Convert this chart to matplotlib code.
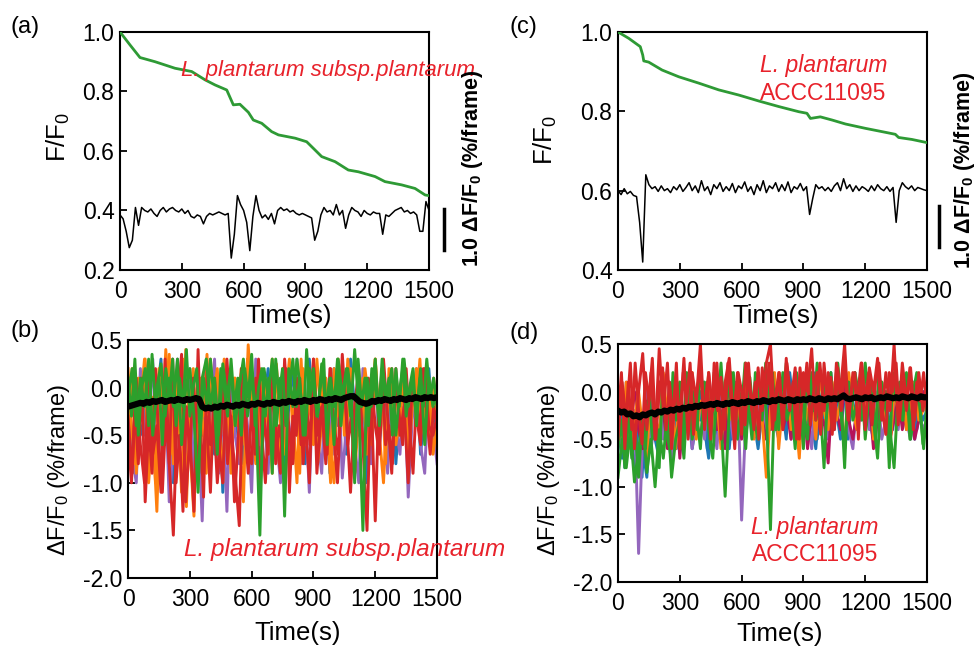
import numpy as np
import matplotlib
matplotlib.use('Agg')
import matplotlib.pyplot as plt

plt.rcParams['font.family'] = ['Liberation Sans', 'DejaVu Sans']
plt.rcParams['axes.unicode_minus'] = False
plt.rcParams['mathtext.fontset'] = 'custom'
plt.rcParams['mathtext.rm'] = 'Liberation Sans'
plt.rcParams['mathtext.it'] = 'Liberation Sans:italic'
plt.rcParams['mathtext.bf'] = 'Liberation Sans:bold'

# ---------------- data ----------------
# (a) F/F0 green curve
green_a_t = [0, 49, 97, 113, 170, 267, 348, 413, 461, 518, 550, 582, 623, 647, 688, 736, 769, 850, 906,
             947, 979, 1044, 1108, 1157, 1238, 1286, 1367, 1432, 1481, 1500]
green_a = [1.0, 0.956, 0.914, 0.911, 0.90, 0.878, 0.867, 0.839, 0.822, 0.805, 0.755, 0.757, 0.73, 0.704,
           0.693, 0.665, 0.654, 0.643, 0.631, 0.603, 0.581, 0.564, 0.536, 0.53, 0.514, 0.497, 0.486, 0.474,
           0.452, 0.45]
# (a) dF/F0 trace (drawn on F/F0 axis scale)
black_a = [0.385, 0.372, 0.33, 0.275, 0.30, 0.41, 0.35, 0.41, 0.40, 0.395, 0.405, 0.39, 0.38, 0.40, 0.41,
           0.395, 0.405, 0.41, 0.40, 0.395, 0.405, 0.39, 0.40, 0.38, 0.375, 0.385, 0.38, 0.355, 0.38, 0.39,
           0.385, 0.39, 0.395, 0.39, 0.385, 0.39, 0.24, 0.32, 0.45, 0.42, 0.40, 0.36, 0.265, 0.38, 0.45,
           0.40, 0.375, 0.385, 0.37, 0.39, 0.355, 0.40, 0.41, 0.40, 0.405, 0.395, 0.40, 0.39, 0.385, 0.39,
           0.385, 0.38, 0.375, 0.30, 0.33, 0.385, 0.41, 0.395, 0.40, 0.385, 0.42, 0.385, 0.40, 0.34, 0.385,
           0.41, 0.40, 0.395, 0.38, 0.40, 0.39, 0.385, 0.395, 0.39, 0.39, 0.32, 0.385, 0.38, 0.39, 0.40,
           0.405, 0.41, 0.395, 0.40, 0.39, 0.395, 0.385, 0.33, 0.33, 0.43, 0.40]

# (c) F/F0 green curve
green_c_t = [0, 52, 108, 120, 125, 149, 214, 295, 392, 489, 586, 683, 780, 877, 917, 934, 982, 1039, 1104,
             1201, 1298, 1346, 1362, 1427, 1500]
green_c = [1.0, 0.984, 0.963, 0.942, 0.927, 0.924, 0.904, 0.887, 0.871, 0.854, 0.841, 0.826, 0.812, 0.799,
           0.795, 0.782, 0.786, 0.778, 0.768, 0.757, 0.747, 0.742, 0.734, 0.729, 0.721]
black_c = [0.600, 0.590, 0.605, 0.592, 0.598, 0.588, 0.585, 0.520, 0.420, 0.640, 0.615, 0.605, 0.610, 0.598,
           0.612, 0.600, 0.605, 0.595, 0.610, 0.602,
           0.615, 0.598, 0.608, 0.620, 0.600, 0.612, 0.595, 0.625, 0.600, 0.610, 0.590, 0.615, 0.605, 0.620,
           0.598, 0.610, 0.600, 0.618, 0.595, 0.612,
           0.605, 0.622, 0.598, 0.610, 0.590, 0.615, 0.600, 0.625, 0.595, 0.612, 0.605, 0.620, 0.598, 0.615,
           0.600, 0.622, 0.595, 0.610, 0.604, 0.618,
           0.600, 0.610, 0.540, 0.580, 0.615, 0.605, 0.610, 0.600, 0.608, 0.598, 0.612, 0.620, 0.600, 0.630,
           0.605, 0.615, 0.598, 0.612, 0.600, 0.610,
           0.605, 0.598, 0.612, 0.600, 0.615, 0.605, 0.600, 0.610, 0.598, 0.608, 0.520, 0.600, 0.620, 0.610,
           0.604, 0.612, 0.600, 0.608, 0.605, 0.602, 0.600]

# (b) individual cell dF/F0 traces (%/frame)
b_blue = [-0.2, -0.9, 0.1, -0.5, -0.3, 0.2, -0.7, -0.1, 0.3, -0.6, -0.2, -1.0, 0.1, -0.4, 0.2, -0.3, -0.8, 0.0, -0.5, 0.3,
          -0.2, -0.7, 0.1, -1.1, -0.3, 0.2, -0.5, -0.1, -0.8, 0.3, -0.4, 0.1, -0.9, -0.2, 0.2, -0.6, -0.3, 0.1, -1.0, -0.2,
          0.2, -0.5, -0.1, -0.8, 0.3, -0.3, -0.6, 0.1, -0.2, -0.9, 0.2, -0.4, -0.1, -0.7, 0.3, -0.2, -0.5, 0.1, -1.0, -0.3,
          0.2, -0.6, -0.1, -0.4, 0.1, -0.8, -0.2, 0.2, -0.5, -0.3, 0.1, -0.7, -0.2, 0.2, -0.4, -0.1]
b_purple = [0.0, -0.7, -1.0, 0.2, -0.5, -0.3, 0.3, -0.9, -0.4, 0.1, -1.2, -0.6, 0.3, -0.2, -0.8, 0.2, -1.05, -0.3, -1.4, 0.1,
            -0.6, 0.3, -0.9, -0.2, -1.3, 0.2, -0.5, -0.8, 0.1, -0.4, -1.1, 0.3, -0.6, -0.2, -0.9, 0.2, -0.5, -1.0, 0.1, -0.7,
            -0.3, 0.3, -0.8, -0.2, -1.1, 0.2, -0.5, -0.9, 0.1, -0.3, -0.7, 0.2, -0.95, -0.4, 0.1, -0.6, -1.0, 0.2, -0.3, -0.8,
            0.1, -0.5, -0.2, -0.9, 0.2, -0.4, -0.7, 0.1, -1.15, -0.3, 0.2, -0.6, -0.9, 0.1, -0.4, -0.8]
b_orange = [-0.6, 0.2, -0.9, -0.2, 0.3, -1.0, -0.4, -1.3, 0.1, -0.5, 0.35, -0.8, -0.2, -1.1, 0.4, -0.6, -1.35, 0.1, -0.3, -0.9,
            0.3, -0.5, -0.2, -1.0, 0.2, -0.7, 0.1, -0.4, -1.2, 0.3, -0.3, -0.8, 0.2, -0.5, -0.1, -0.9, 0.25, -0.4, -0.7, 0.1,
            -0.3, -1.0, 0.3, -0.6, -0.2, 0.2, -0.8, -0.4, 0.1, -0.6, -1.0, 0.3, -0.2, -0.5, 0.2, -0.9, -0.3, 0.1, -0.7, -0.2,
            0.3, -0.5, -1.0, -0.1, 0.2, -0.6, -0.3, 0.1, -0.8, -0.2, 0.2, -0.5, -0.3, 0.1, -0.7, -0.4]
b_orange2 = [0.2, -0.4, -0.8, 0.1, -0.3, 0.3, -0.6, -0.1, -1.0, 0.2, -0.4, 0.4, -0.2, -0.7, 0.1, -0.5, 0.3, -1.25, -0.2, 0.2,
             -0.6, 0.1, -0.3, 0.35, -0.8, -0.1, 0.2, -0.5, 0.3, -0.2, -0.9, 0.1, -0.4, 0.2, -0.6, 0.45, -0.1, -0.3, 0.2, -0.7,
             0.1, -0.4, 0.3, -0.2, -0.8, 0.2, -0.1, 0.3, -0.5, 0.0, -0.9, 0.2, -0.3, 0.1, -0.6, 0.3, -0.2, 0.1, -0.4, -1.0,
             0.2, -0.3, 0.1, -0.5, 0.3, -0.2, -0.7, 0.1, -0.4, 0.2, -0.1, -0.6, 0.3, -0.3, 0.0, -0.8, 0.2, -0.2, 0.1, -0.5,
             0.2, -0.3, -0.6, 0.1, -0.2, 0.3, -0.4, 0.0, -0.5, 0.1, -0.3]
b_red = [-0.3, -0.9, 0.1, -0.6, -1.0, 0.2, -0.7, -0.4, -1.1, 0.3, -0.8, -1.55, -0.2, 0.35, -1.2, -0.5, -1.3, 0.4, -0.9, -0.3,
         -1.1, 0.1, -0.6, -1.0, 0.3, -0.4, -0.9, -1.45, 0.2, -0.6, -0.8, 0.1, -1.1, -0.3, -0.7, 0.2, -0.5, -0.9, 0.3, -0.4,
         -0.8, 0.1, -0.6, -0.3, -1.0, 0.3, -0.5, -0.2, -0.8, 0.2, -0.4, -0.7, 0.35, -0.3, -1.1, -0.2, 0.2, -0.6, -1.5, 0.1,
         -0.4, -0.7, 0.3, -0.3, -0.9, 0.2, -0.5, -0.2, -1.0, 0.1, -0.3, -0.6, 0.2, -0.4, -0.5, -0.3]
b_red2 = [-0.5, -1.0, -0.2, -0.8, 0.1, -1.2, -0.4, -0.9, 0.2, -0.6, -1.1, -0.3, -0.8, 0.3, -1.0, -0.5, -1.3, -0.2, -0.7, 0.1,
          -0.9, -0.4, -1.15, 0.2, -0.6, -0.3, -1.0, -0.5, 0.1, -0.8, -0.3, -1.2, -0.6, 0.2, -0.4, -0.9, -0.2, -0.7, 0.3, -0.5,
          -1.0, -0.3, 0.1, -0.8, -0.4, -0.6, 0.2, -1.1, -0.3, -0.5, 0.1, -0.8, -0.2, -0.6, 0.3, -0.9, -0.4, -0.1, -0.7, 0.2,
          -0.5, -1.0, -0.2, 0.1, -0.6, -0.3, -0.9, 0.2, -0.4, -0.7, 0.1, -0.3, -1.4, -0.2, 0.2, -0.6, -0.4, -0.8, 0.1, -0.3,
          -0.6, 0.2, -0.4, -0.9, -0.1, -0.5, 0.2, -0.3, -0.7, -0.2, -0.4]
b_green = [-0.1, 0.2, -0.4, 0.1, -0.2, 0.3, -0.5, 0.0, 0.25, -0.3, 0.1, -0.2, 0.3, -0.6, 0.0, 0.2, -0.3, -1.1, 0.1, 0.3,
           -0.2, 0.1, -0.5, 0.25, -0.1, 0.2, -0.4, 0.0, 0.3, -0.3, 0.1, -0.2, -1.55, 0.2, -0.1, 0.3, -0.4, 0.1, -1.35, 0.2,
           -0.2, 0.3, -0.1, -0.5, 0.2, 0.0, -0.3, 0.25, -0.2, 0.1, -0.6, 0.3, -0.1, 0.2, -0.3, 0.4, -0.2, -1.5, 0.1, -0.2,
           0.3, -0.4, 0.1, -0.1, 0.2, -0.5, 0.0, 0.3, -0.2, 0.1, -0.3, 0.2, -0.6, 0.1, -0.2, 0.0]
b_green2 = [0.1, -0.3, 0.3, -0.5, 0.0, 0.2, -0.4, 0.35, -0.2, 0.1, -0.6, 0.2, -0.1, 0.3, -0.4, 0.1, -0.2, 0.4, -0.3, 0.0,
            0.2, -0.5, 0.1, -0.2, 0.3, -0.1, -0.7, 0.2, 0.0, -0.3, 0.3, -0.2, 0.1, -0.5, 0.2, -0.1, 0.35, -0.4, 0.0, 0.2,
            -0.3, 0.1, -0.9, 0.3, -0.1, 0.2, -0.4, 0.0, 0.3, -0.2, 0.1, -0.5, 0.4, -0.1, 0.2, -0.3, 0.0, 0.3, -0.6, 0.1,
            -0.2, 0.3, -0.4, 0.0, 0.2, -0.1, -1.0, 0.3, -0.2, 0.1, -0.4, 0.2, 0.0, -0.3, 0.3, -0.1, 0.1, -0.5, 0.2, -0.2,
            0.3, -0.3, 0.0, 0.2, -0.4, 0.1, -0.2, 0.3, -0.1, 0.1, -0.2]
b_mean = [-0.20, -0.19, -0.18, -0.17, -0.16, -0.17, -0.15, -0.16, -0.14, -0.15,
          -0.14, -0.13, -0.15, -0.14, -0.13, -0.14, -0.12, -0.13, -0.14, -0.12,
          -0.13, -0.12, -0.11, -0.12, -0.20, -0.22, -0.21, -0.22, -0.20, -0.21,
          -0.19, -0.20, -0.18, -0.19, -0.20, -0.18, -0.19, -0.17, -0.18, -0.19,
          -0.17, -0.18, -0.16, -0.17, -0.18, -0.16, -0.17, -0.15, -0.16, -0.17,
          -0.15, -0.16, -0.14, -0.15, -0.16, -0.14, -0.15, -0.13, -0.14, -0.15,
          -0.13, -0.14, -0.12, -0.13, -0.14, -0.12, -0.13, -0.11, -0.12, -0.13,
          -0.11, -0.10, -0.09, -0.09, -0.12, -0.15, -0.16, -0.17, -0.16, -0.14,
          -0.15, -0.13, -0.14, -0.12, -0.13, -0.14, -0.12, -0.13, -0.11, -0.12,
          -0.13, -0.11, -0.12, -0.10, -0.11, -0.12, -0.10, -0.11, -0.10, -0.11, -0.10]

# (d) individual cell dF/F0 traces (%/frame)
d_blue = [-0.4, -0.7, -0.2, -0.5, -0.8, -0.3, -0.6, -0.9, -0.2, -0.5, -0.7, -0.1, -0.4, -0.75, -0.3, -0.1, -0.5, -0.2, -0.6, -0.3,
          0.0, -0.4, -0.7, -0.2, -0.5, 0.1, -0.3, -0.6, -0.1, -0.4, -0.2, -0.5, 0.0, -0.3, -0.6, -0.2, 0.1, -0.4, -0.3, -0.5,
          -0.1, -0.3, 0.1, -0.5, -0.2, -0.4, 0.0, -0.3, -0.6, -0.1, -0.3, 0.1, -0.4, -0.2, -0.5, 0.0, -0.3, -0.1, -0.4, -0.2,
          0.1, -0.3, -0.5, -0.1, -0.3, 0.0, -0.4, -0.2, -0.3, 0.1, -0.4, -0.2, -0.5, -0.1, -0.3, -0.2]
d_blue2 = [-0.5, -0.2, -0.8, -0.4, -0.1, -0.6, -0.3, -0.9, -0.2, -0.5, 0.0, -0.4, -0.7, -0.1, -0.5, 0.1, -0.3, -0.6, 0.0, -0.4,
           -0.2, 0.2, -0.5, -0.1, -0.3, 0.1, -0.6, -0.2, 0.0, -0.4, 0.2, -0.3, -0.1, -0.5, 0.1, -0.2, -0.4, 0.2, -0.1, -0.3,
           0.1, -0.5, -0.2, 0.2, -0.3, 0.0, -0.4, 0.1, -0.2, -0.5, 0.2, -0.1, -0.3, 0.1, -0.4, 0.0, -0.2, 0.2, -0.5, -0.1,
           0.1, -0.3, 0.2, -0.4, 0.0, -0.2, 0.1, -0.5, -0.1, 0.2, -0.3, 0.0, -0.4, 0.1, -0.2, -0.5, 0.2, -0.1, -0.3, 0.1,
           -0.4, 0.0, -0.2, 0.2, -0.3, -0.1, 0.1, -0.4, -0.2, 0.0, -0.3]
d_purple = [-0.3, -0.6, 0.1, -0.5, -0.2, -1.7, -0.4, 0.0, -0.6, -0.3, 0.1, -0.5, -0.2, -0.7, 0.0, -0.4, -0.2, 0.1, -0.6, -0.3,
            -0.1, -0.5, 0.2, -0.3, -0.6, 0.0, -0.4, -0.2, -0.5, 0.1, -1.35, -0.3, 0.0, -0.4, -0.2, 0.1, -0.5, -0.3, 0.0, -0.4,
            -0.2, 0.1, -0.5, -0.3, 0.0, -0.4, -0.2, -0.6, 0.1, -0.3, -0.1, -0.5, 0.0, -0.3, -0.2, 0.1, -0.4, -0.6, -0.1, -0.3,
            0.1, -0.4, -0.2, 0.0, -0.5, -0.3, 0.1, -0.2, -0.4, 0.0, -0.3, -0.5, 0.1, -0.2, -0.4, -0.3]
d_magenta = [-0.3, -0.1, -0.5, -0.2, 0.0, -0.4, -0.6, -0.1, -0.3, -0.5, 0.1, -0.2, -0.6, -0.3, 0.0, -0.7, -0.2, -0.4, 0.1, -0.3,
             -0.5, -0.1, -0.3, 0.0, -0.4, -0.2, -0.6, 0.1, -0.3, -0.1, -0.5, 0.0, -0.2, -0.4, 0.1, -0.3, -0.5, -0.1, -0.3, 0.1,
             -0.4, -0.2, -0.5, 0.0, -0.3, -0.1, -0.6, -0.2, 0.1, -0.4, -0.3, -0.75, 0.0, -0.2, -0.4, 0.1, -0.3, -0.5, -0.2, 0.0,
             -0.4, -0.1, -0.6, -0.3, 0.1, -0.2, -0.5, -0.3, 0.0, -0.4, -0.2, -0.1, -0.5, -0.3, 0.0, -0.2]
d_orange = [-0.2, -0.5, 0.1, -0.6, -0.3, 0.0, -0.4, -0.7, 0.1, -0.2, -0.5, 0.2, -0.3, -0.1, -0.6, 0.1, -0.4, -0.2, 0.2, -0.5,
            -0.1, -0.3, 0.2, -0.4, -0.1, -0.6, 0.1, -0.3, 0.0, -0.2, -0.4, 0.2, -0.1, -0.5, 0.1, -0.3, -0.9, -0.2, 0.2, -0.6,
            -0.1, 0.2, -0.4, -0.2, -0.7, 0.1, -0.3, 0.0, -0.5, 0.2, -0.2, -0.4, 0.1, -0.3, -0.1, -0.6, 0.2, -0.2, -0.4, 0.0,
            -0.3, 0.2, -0.5, -0.1, 0.1, -0.3, -0.6, 0.0, -0.2, 0.2, -0.4, -0.1, 0.1, -0.3, -0.2, 0.0]
d_green = [-0.9, -0.5, -0.8, -0.4, -0.95, -0.6, -0.3, -0.85, -0.5, -1.0, -0.4, -0.7, -0.2, -0.9, -0.5, -0.3, -0.7, 0.1, -0.5, -0.2,
           -0.6, 0.1, -0.4, -0.7, 0.0, -0.3, -1.1, -0.2, 0.2, -0.5, -0.1, -0.6, 0.15, -0.3, -0.5, 0.1, -0.2, -1.45, 0.0, -0.4,
           0.2, -0.3, -0.1, -0.6, 0.1, -0.2, -0.5, 0.2, -0.3, -0.1, -0.8, 0.1, -0.4, 0.2, -0.2, -0.6, 0.1, -0.3, -0.1, 0.2,
           -0.5, 0.0, -0.3, -0.7, 0.1, -0.2, -0.4, -0.8, 0.0, -0.3, 0.1, -0.5, -0.2, 0.0, -0.55, -0.3]
d_green2 = [-0.6, -0.3, -0.8, -0.2, -0.7, -0.4, -0.9, -0.3, -0.6, 0.0, -0.5, -0.2, -0.8, 0.1, -0.4, -0.6, 0.2, -0.3, 0.1, -0.5,
            0.2, -0.2, 0.0, -0.4, 0.25, -0.1, 0.1, -0.6, 0.2, -0.2, 0.3, -0.3, 0.0, 0.2, -0.4, 0.1, -0.2, 0.3, -0.1, -0.5,
            0.2, 0.0, -0.3, 0.3, -0.1, 0.2, -0.4, 0.1, -0.2, 0.3, 0.0, -0.3, 0.2, -0.1, -0.6, 0.25, 0.0, -0.2, 0.3, -0.4,
            0.1, -0.1, 0.2, -0.3, 0.3, -0.1, -0.8, 0.1, -0.2, 0.2, 0.0, -0.3, 0.3, -0.1, 0.1, -0.5, 0.2, -0.2, 0.0, -0.8,
            0.2, -0.1, 0.1, -0.3, 0.2, -0.5, 0.0, 0.2, -0.2, -0.6, -0.1]
d_red = [-0.5, 0.1, -0.3, 0.3, -0.6, 0.0, 0.4, -0.4, 0.2, -0.5, 0.45, -0.2, 0.3, -0.6, 0.1, -0.3, 0.35, -0.5, 0.2, -0.1,
         0.5, -0.4, 0.2, -0.2, 0.3, -0.5, 0.1, 0.35, -0.3, 0.2, -0.45, 0.3, 0.0, -0.4, 0.25, -0.2, 0.3, 0.5, -0.3, 0.2,
         -0.4, 0.3, -0.1, 0.25, -0.5, 0.2, 0.0, 0.45, -0.3, 0.3, -0.2, 0.2, -0.45, 0.3, 0.0, 0.5, -0.3, 0.2, -0.1, 0.3,
         -0.4, 0.25, 0.0, 0.35, -0.3, 0.2, -0.2, 0.5, -0.35, 0.3, -0.1, 0.25, -0.3, 0.2, -0.2, 0.1]
d_red2 = [-0.3, 0.2, -0.6, 0.1, -0.4, 0.3, -0.2, -0.55, 0.2, -0.1, 0.35, -0.5, 0.0, 0.25, -0.4, 0.1, -0.3, 0.3, -0.6, 0.2,
          -0.1, 0.3, -0.45, 0.0, 0.25, -0.3, 0.1, -0.5, 0.3, -0.2, 0.15, -0.4, 0.3, -0.1, -0.6, 0.2, 0.0, -0.35, 0.3, -0.2,
          0.1, -0.5, 0.25, -0.1, 0.3, -0.4, 0.0, 0.2, -0.3, 0.35, -0.2, 0.1, -0.5, 0.25, -0.1, 0.3, -0.35, 0.0, 0.2, -0.45,
          0.3, -0.1, 0.15, -0.4, 0.25, -0.2, 0.3, -0.3, 0.0, 0.2, -0.5, 0.3, -0.1, 0.2, -0.35, 0.1, 0.3, -0.2, -0.45, 0.2,
          0.0, 0.3, -0.3, 0.1, -0.2, 0.25, -0.4, 0.1, -0.1, 0.2, -0.2]
d_mean = [-0.20, -0.22, -0.21, -0.24, -0.23, -0.26, -0.25, -0.27, -0.24, -0.25,
          -0.23, -0.22, -0.24, -0.21, -0.22, -0.20, -0.21, -0.19, -0.20, -0.18,
          -0.19, -0.17, -0.18, -0.16, -0.17, -0.15, -0.16, -0.14, -0.15, -0.14,
          -0.13, -0.14, -0.12, -0.13, -0.14, -0.12, -0.13, -0.11, -0.12, -0.13,
          -0.11, -0.12, -0.10, -0.11, -0.12, -0.10, -0.11, -0.09, -0.10, -0.11,
          -0.09, -0.10, -0.08, -0.09, -0.10, -0.08, -0.09, -0.10, -0.08, -0.09,
          -0.08, -0.09, -0.07, -0.08, -0.09, -0.07, -0.08, -0.09, -0.07, -0.08,
          -0.07, -0.08, -0.06, -0.04, -0.07, -0.08, -0.07, -0.06, -0.07, -0.08,
          -0.06, -0.07, -0.06, -0.08, -0.07, -0.06, -0.07, -0.05, -0.06, -0.07,
          -0.06, -0.07, -0.05, -0.06, -0.07, -0.05, -0.06, -0.07, -0.05, -0.06, -0.06]

x_ticks = [0, 300, 600, 900, 1200, 1500]
yticks_top_a = [0.2, 0.4, 0.6, 0.8, 1.0]
yticks_top_c = [0.4, 0.6, 0.8, 1.0]
yticks_bottom = [-2.0, -1.5, -1.0, -0.5, 0.0, 0.5]

# ---------------- style ----------------
C_GREEN = '#2e9a35'
C_RED_TXT = '#e8222b'
COLS = {'blue': '#1f77b4', 'orange': '#ff7f0e', 'green': '#2ca02c', 'red': '#d62728',
        'purple': '#9467bd', 'magenta': '#b5125a'}
TICK_FS = 16.5
LAB_FS = 18.5
TRACE_LW = 2.1

fig = plt.figure(figsize=(9.78, 6.51), dpi=100)

def style(ax, yticks):
    ax.set_xlim(0, 1500)
    ax.set_xticks(x_ticks)
    ax.set_yticks(yticks)
    ax.set_yticklabels(['{:.1f}'.format(v) for v in yticks])
    ax.tick_params(direction='in', length=5, width=1.3, labelsize=TICK_FS, pad=4)
    ax.tick_params(axis='x', pad=7)
    for s in ax.spines.values():
        s.set_linewidth(1.5)

def tvec(vals):
    return np.linspace(0, 1500, len(vals))

# (a)
ax_a = fig.add_axes([0.1227, 0.5853, 0.316, 0.3656])
ax_a.plot(green_a_t, green_a, color=C_GREEN, lw=2.0, zorder=3)
ax_a.plot(tvec(black_a), black_a, color='black', lw=1.1, zorder=3)
style(ax_a, yticks_top_a)
ax_a.set_ylim(0.2, 1.0)
ax_a.set_xlabel('Time(s)', fontsize=LAB_FS)
ax_a.xaxis.set_label_coords(0.547, -0.145)
ax_a.set_ylabel('F/F$_0$', fontsize=LAB_FS)
ax_a.yaxis.set_label_coords(-0.155, 0.56)
ax_a.text(1.15, 0.84, 'L. plantarum subsp.plantarum', transform=ax_a.transAxes, fontstyle='italic',
          color=C_RED_TXT, fontsize=16, ha='right', va='center')
ax_a.plot([1573, 1573], [0.267, 0.405], color='black', lw=2.5, clip_on=False)

# (c)
ax_c = fig.add_axes([0.6319, 0.5853, 0.316, 0.3656])
ax_c.plot(green_c_t, green_c, color=C_GREEN, lw=2.0, zorder=3)
ax_c.plot(tvec(black_c), black_c, color='black', lw=1.1, zorder=3)
style(ax_c, yticks_top_c)
ax_c.set_ylim(0.4, 1.0)
ax_c.set_xlabel('Time(s)', fontsize=LAB_FS)
ax_c.xaxis.set_label_coords(0.51, -0.145)
ax_c.set_ylabel('F/F$_0$', fontsize=LAB_FS)
ax_c.yaxis.set_label_coords(-0.19, 0.546)
ax_c.text(0.665, 0.86, 'L. plantarum', transform=ax_c.transAxes, fontstyle='italic',
          color=C_RED_TXT, fontsize=16.5, ha='center', va='center')
ax_c.text(0.665, 0.74, 'ACCC11095', transform=ax_c.transAxes,
          color=C_RED_TXT, fontsize=16.5, ha='center', va='center')
ax_c.plot([1557, 1557], [0.458, 0.561], color='black', lw=2.5, clip_on=False)

# right-side scale labels
fig.text(0.4836, 0.742, r'1.0 ΔF/F$_\mathbf{0}$ (%/frame)', rotation=90, fontsize=15.5,
         fontweight='bold', ha='center', va='center')
fig.text(0.9867, 0.739, r'1.0 ΔF/F$_\mathbf{0}$ (%/frame)', rotation=90, fontsize=15.5,
         fontweight='bold', ha='center', va='center')

# (b)
ax_b = fig.add_axes([0.1309, 0.1121, 0.316, 0.3656])
for name, vals in [('blue', b_blue), ('purple', b_purple), ('orange', b_orange), ('orange', b_orange2),
                   ('red', b_red), ('red', b_red2), ('green', b_green), ('green', b_green2)]:
    ax_b.plot(tvec(vals), vals, color=COLS[name], lw=TRACE_LW)
ax_b.plot(tvec(b_mean), b_mean, color='black', lw=4.5, zorder=5)
style(ax_b, yticks_bottom)
ax_b.set_ylim(-2.0, 0.5)
ax_b.set_xlabel('Time(s)', fontsize=LAB_FS)
ax_b.xaxis.set_label_coords(0.55, -0.18)
ax_b.set_ylabel('ΔF/F$_0$ (%/frame)', fontsize=17)
ax_b.yaxis.set_label_coords(-0.18, 0.454)
ax_b.text(0.18, 0.118, 'L. plantarum subsp.plantarum', transform=ax_b.transAxes, fontstyle='italic',
          color=C_RED_TXT, fontsize=17.5, ha='left', va='center', clip_on=False)

# (d)
ax_d = fig.add_axes([0.6319, 0.1060, 0.316, 0.3656])
for name, vals in [('blue', d_blue), ('blue', d_blue2), ('purple', d_purple), ('magenta', d_magenta),
                   ('orange', d_orange), ('green', d_green), ('green', d_green2),
                   ('red', d_red), ('red', d_red2)]:
    ax_d.plot(tvec(vals), vals, color=COLS[name], lw=TRACE_LW)
ax_d.plot(tvec(d_mean), d_mean, color='black', lw=4.5, zorder=5)
style(ax_d, yticks_bottom)
ax_d.set_ylim(-2.0, 0.5)
ax_d.set_xlabel('Time(s)', fontsize=LAB_FS)
ax_d.xaxis.set_label_coords(0.524, -0.168)
ax_d.set_ylabel('ΔF/F$_0$ (%/frame)', fontsize=17)
ax_d.yaxis.set_label_coords(-0.18, 0.47)
ax_d.text(0.638, 0.23, 'L. plantarum', transform=ax_d.transAxes, fontstyle='italic',
          color=C_RED_TXT, fontsize=16.5, ha='center', va='center')
ax_d.text(0.638, 0.115, 'ACCC11095', transform=ax_d.transAxes,
          color=C_RED_TXT, fontsize=16.5, ha='center', va='center')

# panel letters
for x, y, s in [(0.011, 0.958, '(a)'), (0.011, 0.491, '(b)'), (0.521, 0.958, '(c)'), (0.521, 0.488, '(d)')]:
    fig.text(x, y, s, fontsize=17, ha='left', va='center')

fig.savefig('out.png', dpi=100)
